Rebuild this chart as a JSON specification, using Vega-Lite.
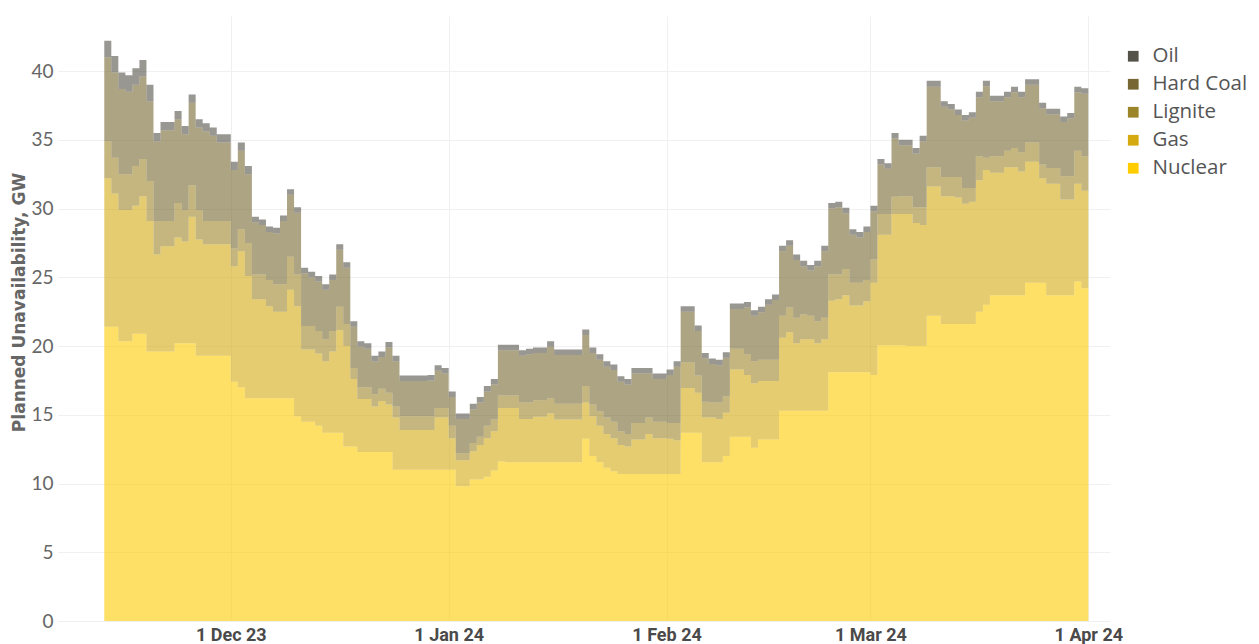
{
  "$schema": "https://vega.github.io/schema/vega-lite/v6.json",
  "width": 1052,
  "height": 605,
  "autosize": {"type": "none"},
  "padding": {"left": 58, "top": 16, "right": 149, "bottom": 23},
  "background": "white",
  "config": {"view": {"stroke": null}, "font": "Lato"},
  "data": {
    "format": {"parse": {"date": "utc:'%Y-%m-%d'"}},
    "values": [
      {"date": "2023-11-13", "Nuclear": 21.4, "Gas": 10.8, "Lignite": 2.7, "Hard Coal": 6.1, "Oil": 1.2},
      {"date": "2023-11-14", "Nuclear": 21.4, "Gas": 9.7, "Lignite": 2.6, "Hard Coal": 6.2, "Oil": 1.2},
      {"date": "2023-11-15", "Nuclear": 20.35, "Gas": 9.55, "Lignite": 2.6, "Hard Coal": 6.2, "Oil": 1.2},
      {"date": "2023-11-16", "Nuclear": 20.35, "Gas": 9.55, "Lignite": 2.6, "Hard Coal": 6.0, "Oil": 1.2},
      {"date": "2023-11-17", "Nuclear": 20.9, "Gas": 9.3, "Lignite": 2.9, "Hard Coal": 5.9, "Oil": 1.2},
      {"date": "2023-11-18", "Nuclear": 20.9, "Gas": 10.0, "Lignite": 2.7, "Hard Coal": 6.0, "Oil": 1.2},
      {"date": "2023-11-19", "Nuclear": 19.6, "Gas": 9.5, "Lignite": 2.9, "Hard Coal": 5.8, "Oil": 1.2},
      {"date": "2023-11-20", "Nuclear": 19.6, "Gas": 7.05, "Lignite": 2.45, "Hard Coal": 5.8, "Oil": 0.6},
      {"date": "2023-11-21", "Nuclear": 19.6, "Gas": 7.65, "Lignite": 1.85, "Hard Coal": 6.6, "Oil": 0.6},
      {"date": "2023-11-22", "Nuclear": 19.6, "Gas": 7.65, "Lignite": 1.85, "Hard Coal": 6.6, "Oil": 0.6},
      {"date": "2023-11-23", "Nuclear": 20.2, "Gas": 7.7, "Lignite": 2.5, "Hard Coal": 6.1, "Oil": 0.6},
      {"date": "2023-11-24", "Nuclear": 20.2, "Gas": 7.4, "Lignite": 2.3, "Hard Coal": 5.5, "Oil": 0.6},
      {"date": "2023-11-25", "Nuclear": 20.2, "Gas": 9.2, "Lignite": 2.3, "Hard Coal": 6.0, "Oil": 0.6},
      {"date": "2023-11-26", "Nuclear": 19.3, "Gas": 8.45, "Lignite": 2.15, "Hard Coal": 6.0, "Oil": 0.6},
      {"date": "2023-11-27", "Nuclear": 19.3, "Gas": 8.1, "Lignite": 1.7, "Hard Coal": 6.5, "Oil": 0.6},
      {"date": "2023-11-28", "Nuclear": 19.3, "Gas": 8.1, "Lignite": 1.7, "Hard Coal": 6.2, "Oil": 0.6},
      {"date": "2023-11-29", "Nuclear": 19.3, "Gas": 8.1, "Lignite": 1.7, "Hard Coal": 5.7, "Oil": 0.6},
      {"date": "2023-11-30", "Nuclear": 19.3, "Gas": 8.1, "Lignite": 1.7, "Hard Coal": 5.7, "Oil": 0.6},
      {"date": "2023-12-01", "Nuclear": 17.4, "Gas": 8.4, "Lignite": 1.3, "Hard Coal": 5.7, "Oil": 0.6},
      {"date": "2023-12-02", "Nuclear": 17.0, "Gas": 9.9, "Lignite": 1.6, "Hard Coal": 5.7, "Oil": 0.6},
      {"date": "2023-12-03", "Nuclear": 16.2, "Gas": 8.9, "Lignite": 2.4, "Hard Coal": 5.0, "Oil": 0.6},
      {"date": "2023-12-04", "Nuclear": 16.2, "Gas": 7.2, "Lignite": 1.8, "Hard Coal": 3.8, "Oil": 0.4},
      {"date": "2023-12-05", "Nuclear": 16.2, "Gas": 7.2, "Lignite": 1.8, "Hard Coal": 3.6, "Oil": 0.4},
      {"date": "2023-12-06", "Nuclear": 16.2, "Gas": 6.7, "Lignite": 1.9, "Hard Coal": 3.5, "Oil": 0.4},
      {"date": "2023-12-07", "Nuclear": 16.2, "Gas": 6.3, "Lignite": 2.0, "Hard Coal": 3.7, "Oil": 0.4},
      {"date": "2023-12-08", "Nuclear": 16.2, "Gas": 6.3, "Lignite": 2.0, "Hard Coal": 4.6, "Oil": 0.4},
      {"date": "2023-12-09", "Nuclear": 16.2, "Gas": 7.9, "Lignite": 2.4, "Hard Coal": 4.5, "Oil": 0.4},
      {"date": "2023-12-10", "Nuclear": 14.9, "Gas": 8.0, "Lignite": 2.3, "Hard Coal": 4.5, "Oil": 0.4},
      {"date": "2023-12-11", "Nuclear": 14.5, "Gas": 5.25, "Lignite": 1.7, "Hard Coal": 3.85, "Oil": 0.4},
      {"date": "2023-12-12", "Nuclear": 14.5, "Gas": 5.25, "Lignite": 1.7, "Hard Coal": 3.55, "Oil": 0.4},
      {"date": "2023-12-13", "Nuclear": 14.2, "Gas": 5.25, "Lignite": 1.65, "Hard Coal": 3.6, "Oil": 0.4},
      {"date": "2023-12-14", "Nuclear": 13.7, "Gas": 5.2, "Lignite": 1.6, "Hard Coal": 3.6, "Oil": 0.4},
      {"date": "2023-12-15", "Nuclear": 13.7, "Gas": 5.9, "Lignite": 1.5, "Hard Coal": 3.7, "Oil": 0.4},
      {"date": "2023-12-16", "Nuclear": 13.7, "Gas": 7.45, "Lignite": 1.7, "Hard Coal": 4.15, "Oil": 0.4},
      {"date": "2023-12-17", "Nuclear": 12.7, "Gas": 7.3, "Lignite": 1.6, "Hard Coal": 4.1, "Oil": 0.4},
      {"date": "2023-12-18", "Nuclear": 12.7, "Gas": 4.9, "Lignite": 0.8, "Hard Coal": 3.0, "Oil": 0.4},
      {"date": "2023-12-19", "Nuclear": 12.3, "Gas": 3.85, "Lignite": 0.85, "Hard Coal": 2.95, "Oil": 0.4},
      {"date": "2023-12-20", "Nuclear": 12.3, "Gas": 3.85, "Lignite": 0.85, "Hard Coal": 2.8, "Oil": 0.4},
      {"date": "2023-12-21", "Nuclear": 12.3, "Gas": 3.3, "Lignite": 0.9, "Hard Coal": 2.4, "Oil": 0.4},
      {"date": "2023-12-22", "Nuclear": 12.3, "Gas": 3.7, "Lignite": 0.9, "Hard Coal": 2.3, "Oil": 0.4},
      {"date": "2023-12-23", "Nuclear": 12.3, "Gas": 3.45, "Lignite": 0.85, "Hard Coal": 3.3, "Oil": 0.4},
      {"date": "2023-12-24", "Nuclear": 11.0, "Gas": 3.8, "Lignite": 0.8, "Hard Coal": 3.3, "Oil": 0.4},
      {"date": "2023-12-25", "Nuclear": 11.0, "Gas": 2.9, "Lignite": 1.0, "Hard Coal": 2.55, "Oil": 0.4},
      {"date": "2023-12-26", "Nuclear": 11.0, "Gas": 2.9, "Lignite": 1.0, "Hard Coal": 2.55, "Oil": 0.4},
      {"date": "2023-12-27", "Nuclear": 11.0, "Gas": 2.9, "Lignite": 1.0, "Hard Coal": 2.55, "Oil": 0.4},
      {"date": "2023-12-28", "Nuclear": 11.0, "Gas": 2.9, "Lignite": 1.0, "Hard Coal": 2.55, "Oil": 0.4},
      {"date": "2023-12-29", "Nuclear": 11.0, "Gas": 2.9, "Lignite": 1.0, "Hard Coal": 2.6, "Oil": 0.4},
      {"date": "2023-12-30", "Nuclear": 11.0, "Gas": 3.8, "Lignite": 0.7, "Hard Coal": 2.7, "Oil": 0.4},
      {"date": "2023-12-31", "Nuclear": 11.0, "Gas": 3.8, "Lignite": 0.7, "Hard Coal": 2.5, "Oil": 0.4},
      {"date": "2024-01-01", "Nuclear": 11.0, "Gas": 2.3, "Lignite": 0.9, "Hard Coal": 2.1, "Oil": 0.4},
      {"date": "2024-01-02", "Nuclear": 9.8, "Gas": 1.9, "Lignite": 0.5, "Hard Coal": 2.5, "Oil": 0.4},
      {"date": "2024-01-03", "Nuclear": 9.8, "Gas": 1.9, "Lignite": 0.5, "Hard Coal": 2.5, "Oil": 0.4},
      {"date": "2024-01-04", "Nuclear": 10.3, "Gas": 2.05, "Lignite": 0.6, "Hard Coal": 2.45, "Oil": 0.4},
      {"date": "2024-01-05", "Nuclear": 10.3, "Gas": 2.5, "Lignite": 0.6, "Hard Coal": 2.5, "Oil": 0.4},
      {"date": "2024-01-06", "Nuclear": 10.5, "Gas": 2.8, "Lignite": 0.9, "Hard Coal": 2.5, "Oil": 0.4},
      {"date": "2024-01-07", "Nuclear": 10.95, "Gas": 2.85, "Lignite": 0.85, "Hard Coal": 2.55, "Oil": 0.4},
      {"date": "2024-01-08", "Nuclear": 11.6, "Gas": 3.9, "Lignite": 0.9, "Hard Coal": 3.3, "Oil": 0.4},
      {"date": "2024-01-09", "Nuclear": 11.55, "Gas": 3.95, "Lignite": 0.9, "Hard Coal": 3.3, "Oil": 0.4},
      {"date": "2024-01-10", "Nuclear": 11.55, "Gas": 3.95, "Lignite": 0.9, "Hard Coal": 3.3, "Oil": 0.4},
      {"date": "2024-01-11", "Nuclear": 11.55, "Gas": 3.15, "Lignite": 1.2, "Hard Coal": 3.4, "Oil": 0.4},
      {"date": "2024-01-12", "Nuclear": 11.55, "Gas": 3.15, "Lignite": 1.2, "Hard Coal": 3.5, "Oil": 0.4},
      {"date": "2024-01-13", "Nuclear": 11.55, "Gas": 3.3, "Lignite": 1.2, "Hard Coal": 3.45, "Oil": 0.4},
      {"date": "2024-01-14", "Nuclear": 11.55, "Gas": 3.3, "Lignite": 1.2, "Hard Coal": 3.45, "Oil": 0.4},
      {"date": "2024-01-15", "Nuclear": 11.55, "Gas": 3.55, "Lignite": 1.1, "Hard Coal": 3.75, "Oil": 0.4},
      {"date": "2024-01-16", "Nuclear": 11.55, "Gas": 3.1, "Lignite": 1.15, "Hard Coal": 3.55, "Oil": 0.4},
      {"date": "2024-01-17", "Nuclear": 11.55, "Gas": 3.1, "Lignite": 1.15, "Hard Coal": 3.55, "Oil": 0.4},
      {"date": "2024-01-18", "Nuclear": 11.55, "Gas": 3.1, "Lignite": 1.15, "Hard Coal": 3.55, "Oil": 0.4},
      {"date": "2024-01-19", "Nuclear": 11.55, "Gas": 3.1, "Lignite": 1.15, "Hard Coal": 3.55, "Oil": 0.4},
      {"date": "2024-01-20", "Nuclear": 13.25, "Gas": 2.65, "Lignite": 1.2, "Hard Coal": 3.7, "Oil": 0.4},
      {"date": "2024-01-21", "Nuclear": 12.0, "Gas": 2.9, "Lignite": 0.85, "Hard Coal": 3.75, "Oil": 0.4},
      {"date": "2024-01-22", "Nuclear": 11.55, "Gas": 2.65, "Lignite": 1.05, "Hard Coal": 3.75, "Oil": 0.4},
      {"date": "2024-01-23", "Nuclear": 11.15, "Gas": 2.45, "Lignite": 1.2, "Hard Coal": 3.7, "Oil": 0.4},
      {"date": "2024-01-24", "Nuclear": 10.9, "Gas": 2.4, "Lignite": 1.2, "Hard Coal": 3.75, "Oil": 0.4},
      {"date": "2024-01-25", "Nuclear": 10.7, "Gas": 2.1, "Lignite": 1.0, "Hard Coal": 3.6, "Oil": 0.4},
      {"date": "2024-01-26", "Nuclear": 10.7, "Gas": 2.0, "Lignite": 0.9, "Hard Coal": 3.6, "Oil": 0.4},
      {"date": "2024-01-27", "Nuclear": 10.7, "Gas": 2.5, "Lignite": 1.2, "Hard Coal": 3.6, "Oil": 0.4},
      {"date": "2024-01-28", "Nuclear": 10.7, "Gas": 2.5, "Lignite": 1.2, "Hard Coal": 3.6, "Oil": 0.4},
      {"date": "2024-01-29", "Nuclear": 10.7, "Gas": 2.9, "Lignite": 1.2, "Hard Coal": 3.2, "Oil": 0.4},
      {"date": "2024-01-30", "Nuclear": 10.7, "Gas": 2.6, "Lignite": 1.2, "Hard Coal": 3.1, "Oil": 0.4},
      {"date": "2024-01-31", "Nuclear": 10.7, "Gas": 2.6, "Lignite": 1.2, "Hard Coal": 3.1, "Oil": 0.4},
      {"date": "2024-02-01", "Nuclear": 10.7, "Gas": 2.55, "Lignite": 1.15, "Hard Coal": 3.5, "Oil": 0.4},
      {"date": "2024-02-02", "Nuclear": 10.7, "Gas": 2.45, "Lignite": 1.25, "Hard Coal": 4.1, "Oil": 0.4},
      {"date": "2024-02-03", "Nuclear": 13.7, "Gas": 3.25, "Lignite": 1.85, "Hard Coal": 3.7, "Oil": 0.4},
      {"date": "2024-02-04", "Nuclear": 13.7, "Gas": 3.25, "Lignite": 1.85, "Hard Coal": 3.7, "Oil": 0.4},
      {"date": "2024-02-05", "Nuclear": 13.7, "Gas": 2.9, "Lignite": 1.25, "Hard Coal": 3.25, "Oil": 0.4},
      {"date": "2024-02-06", "Nuclear": 11.55, "Gas": 3.25, "Lignite": 1.15, "Hard Coal": 3.15, "Oil": 0.4},
      {"date": "2024-02-07", "Nuclear": 11.55, "Gas": 3.25, "Lignite": 1.1, "Hard Coal": 2.8, "Oil": 0.4},
      {"date": "2024-02-08", "Nuclear": 11.55, "Gas": 3.15, "Lignite": 1.2, "Hard Coal": 2.7, "Oil": 0.4},
      {"date": "2024-02-09", "Nuclear": 12.0, "Gas": 3.15, "Lignite": 1.2, "Hard Coal": 2.8, "Oil": 0.4},
      {"date": "2024-02-10", "Nuclear": 13.4, "Gas": 4.9, "Lignite": 1.5, "Hard Coal": 2.9, "Oil": 0.4},
      {"date": "2024-02-11", "Nuclear": 13.4, "Gas": 4.9, "Lignite": 1.5, "Hard Coal": 2.9, "Oil": 0.4},
      {"date": "2024-02-12", "Nuclear": 13.4, "Gas": 4.5, "Lignite": 1.5, "Hard Coal": 3.4, "Oil": 0.4},
      {"date": "2024-02-13", "Nuclear": 12.6, "Gas": 4.7, "Lignite": 1.6, "Hard Coal": 3.3, "Oil": 0.4},
      {"date": "2024-02-14", "Nuclear": 13.2, "Gas": 4.25, "Lignite": 1.55, "Hard Coal": 3.45, "Oil": 0.4},
      {"date": "2024-02-15", "Nuclear": 13.2, "Gas": 4.25, "Lignite": 1.55, "Hard Coal": 4.0, "Oil": 0.4},
      {"date": "2024-02-16", "Nuclear": 13.2, "Gas": 4.25, "Lignite": 1.55, "Hard Coal": 4.35, "Oil": 0.4},
      {"date": "2024-02-17", "Nuclear": 15.3, "Gas": 5.3, "Lignite": 1.6, "Hard Coal": 4.7, "Oil": 0.4},
      {"date": "2024-02-18", "Nuclear": 15.3, "Gas": 5.7, "Lignite": 1.8, "Hard Coal": 4.5, "Oil": 0.4},
      {"date": "2024-02-19", "Nuclear": 15.3, "Gas": 4.9, "Lignite": 1.85, "Hard Coal": 4.2, "Oil": 0.4},
      {"date": "2024-02-20", "Nuclear": 15.3, "Gas": 5.2, "Lignite": 1.8, "Hard Coal": 3.5, "Oil": 0.4},
      {"date": "2024-02-21", "Nuclear": 15.3, "Gas": 5.2, "Lignite": 1.7, "Hard Coal": 3.3, "Oil": 0.4},
      {"date": "2024-02-22", "Nuclear": 15.3, "Gas": 4.9, "Lignite": 1.6, "Hard Coal": 4.0, "Oil": 0.4},
      {"date": "2024-02-23", "Nuclear": 15.3, "Gas": 5.2, "Lignite": 1.55, "Hard Coal": 4.85, "Oil": 0.4},
      {"date": "2024-02-24", "Nuclear": 18.1, "Gas": 5.2, "Lignite": 1.9, "Hard Coal": 4.8, "Oil": 0.4},
      {"date": "2024-02-25", "Nuclear": 18.1, "Gas": 5.3, "Lignite": 1.8, "Hard Coal": 4.9, "Oil": 0.4},
      {"date": "2024-02-26", "Nuclear": 18.1, "Gas": 5.6, "Lignite": 1.9, "Hard Coal": 4.05, "Oil": 0.4},
      {"date": "2024-02-27", "Nuclear": 18.1, "Gas": 4.85, "Lignite": 1.65, "Hard Coal": 3.5, "Oil": 0.4},
      {"date": "2024-02-28", "Nuclear": 18.1, "Gas": 4.85, "Lignite": 1.65, "Hard Coal": 3.3, "Oil": 0.4},
      {"date": "2024-02-29", "Nuclear": 18.1, "Gas": 5.15, "Lignite": 1.55, "Hard Coal": 3.5, "Oil": 0.4},
      {"date": "2024-03-01", "Nuclear": 17.9, "Gas": 6.7, "Lignite": 1.7, "Hard Coal": 3.5, "Oil": 0.4},
      {"date": "2024-03-02", "Nuclear": 20.05, "Gas": 8.05, "Lignite": 1.5, "Hard Coal": 3.6, "Oil": 0.4},
      {"date": "2024-03-03", "Nuclear": 20.05, "Gas": 8.05, "Lignite": 1.5, "Hard Coal": 3.3, "Oil": 0.4},
      {"date": "2024-03-04", "Nuclear": 20.05, "Gas": 9.55, "Lignite": 1.25, "Hard Coal": 4.25, "Oil": 0.4},
      {"date": "2024-03-05", "Nuclear": 20.05, "Gas": 9.55, "Lignite": 1.3, "Hard Coal": 3.7, "Oil": 0.4},
      {"date": "2024-03-06", "Nuclear": 20.0, "Gas": 9.6, "Lignite": 1.3, "Hard Coal": 3.7, "Oil": 0.4},
      {"date": "2024-03-07", "Nuclear": 20.0, "Gas": 8.95, "Lignite": 1.15, "Hard Coal": 3.9, "Oil": 0.4},
      {"date": "2024-03-08", "Nuclear": 20.0, "Gas": 8.8, "Lignite": 1.3, "Hard Coal": 4.8, "Oil": 0.4},
      {"date": "2024-03-09", "Nuclear": 22.2, "Gas": 9.4, "Lignite": 1.4, "Hard Coal": 5.85, "Oil": 0.45},
      {"date": "2024-03-10", "Nuclear": 22.2, "Gas": 9.4, "Lignite": 1.4, "Hard Coal": 5.85, "Oil": 0.45},
      {"date": "2024-03-11", "Nuclear": 21.6, "Gas": 9.3, "Lignite": 1.4, "Hard Coal": 5.1, "Oil": 0.4},
      {"date": "2024-03-12", "Nuclear": 21.6, "Gas": 9.3, "Lignite": 1.4, "Hard Coal": 4.9, "Oil": 0.4},
      {"date": "2024-03-13", "Nuclear": 21.6, "Gas": 9.2, "Lignite": 1.5, "Hard Coal": 4.5, "Oil": 0.4},
      {"date": "2024-03-14", "Nuclear": 21.6, "Gas": 8.75, "Lignite": 1.15, "Hard Coal": 4.9, "Oil": 0.4},
      {"date": "2024-03-15", "Nuclear": 21.6, "Gas": 8.9, "Lignite": 1.0, "Hard Coal": 5.1, "Oil": 0.4},
      {"date": "2024-03-16", "Nuclear": 22.5, "Gas": 9.55, "Lignite": 1.75, "Hard Coal": 4.3, "Oil": 0.4},
      {"date": "2024-03-17", "Nuclear": 23.0, "Gas": 9.8, "Lignite": 0.9, "Hard Coal": 5.2, "Oil": 0.4},
      {"date": "2024-03-18", "Nuclear": 23.7, "Gas": 8.9, "Lignite": 1.2, "Hard Coal": 4.0, "Oil": 0.4},
      {"date": "2024-03-19", "Nuclear": 23.7, "Gas": 8.9, "Lignite": 1.2, "Hard Coal": 4.0, "Oil": 0.4},
      {"date": "2024-03-20", "Nuclear": 23.7, "Gas": 9.3, "Lignite": 1.2, "Hard Coal": 3.9, "Oil": 0.4},
      {"date": "2024-03-21", "Nuclear": 23.7, "Gas": 9.3, "Lignite": 1.4, "Hard Coal": 4.05, "Oil": 0.4},
      {"date": "2024-03-22", "Nuclear": 23.7, "Gas": 9.0, "Lignite": 1.4, "Hard Coal": 4.0, "Oil": 0.4},
      {"date": "2024-03-23", "Nuclear": 24.6, "Gas": 8.8, "Lignite": 1.4, "Hard Coal": 4.2, "Oil": 0.4},
      {"date": "2024-03-24", "Nuclear": 24.6, "Gas": 8.8, "Lignite": 1.4, "Hard Coal": 4.2, "Oil": 0.4},
      {"date": "2024-03-25", "Nuclear": 24.6, "Gas": 7.6, "Lignite": 1.0, "Hard Coal": 4.1, "Oil": 0.4},
      {"date": "2024-03-26", "Nuclear": 23.7, "Gas": 8.1, "Lignite": 1.15, "Hard Coal": 3.9, "Oil": 0.4},
      {"date": "2024-03-27", "Nuclear": 23.7, "Gas": 8.1, "Lignite": 1.15, "Hard Coal": 3.9, "Oil": 0.4},
      {"date": "2024-03-28", "Nuclear": 23.7, "Gas": 6.95, "Lignite": 1.7, "Hard Coal": 3.95, "Oil": 0.4},
      {"date": "2024-03-29", "Nuclear": 23.7, "Gas": 6.95, "Lignite": 1.7, "Hard Coal": 4.2, "Oil": 0.4},
      {"date": "2024-03-30", "Nuclear": 24.7, "Gas": 7.1, "Lignite": 2.4, "Hard Coal": 4.25, "Oil": 0.4},
      {"date": "2024-03-31", "Nuclear": 24.2, "Gas": 7.1, "Lignite": 2.5, "Hard Coal": 4.55, "Oil": 0.4},
      {"date": "2024-04-01", "Nuclear": 24.2, "Gas": 7.1, "Lignite": 2.5, "Hard Coal": 4.55, "Oil": 0.4}
    ]
  },
  "transform": [
    {"fold": ["Nuclear", "Gas", "Lignite", "Hard Coal", "Oil"], "as": ["source", "gw"]},
    {
      "lookup": "source",
      "from": {
        "data": {"values": [
          {"source": "Nuclear", "rank": 1},
          {"source": "Gas", "rank": 2},
          {"source": "Lignite", "rank": 3},
          {"source": "Hard Coal", "rank": 4},
          {"source": "Oil", "rank": 5}
        ]},
        "key": "source",
        "fields": ["rank"]
      }
    }
  ],
  "mark": {"type": "area", "interpolate": "step-after", "opacity": 0.6},
  "encoding": {
    "x": {
      "field": "date",
      "type": "temporal",
      "scale": {
        "type": "utc",
        "domain": [
          {"year": 2023, "month": 11, "date": 6, "hours": 10, "utc": true},
          {"year": 2024, "month": 4, "date": 4, "hours": 2, "utc": true}
        ]
      },
      "axis": {
        "title": null,
        "tickCount": "month",
        "format": "%-d %b %y",
        "grid": true,
        "gridColor": "#f0f0f0",
        "domain": false,
        "ticks": false,
        "labelFont": "Roboto",
        "labelFontWeight": "bold",
        "labelFontSize": 18,
        "labelColor": "#4a4a4a",
        "labelPadding": 5
      }
    },
    "y": {
      "field": "gw",
      "type": "quantitative",
      "stack": "zero",
      "scale": {"domain": [0, 44], "nice": false, "zero": true},
      "axis": {
        "title": "Planned Unavailability, GW",
        "titleFont": "DejaVu Sans",
        "titleFontWeight": "bold",
        "titleFontSize": 17,
        "titleColor": "#666666",
        "titleX": -30,
        "titleY": 286,
        "titleAngle": -90,
        "titleAlign": "center",
        "titleBaseline": "bottom",
        "values": [0, 5, 10, 15, 20, 25, 30, 35, 40],
        "grid": true,
        "gridColor": "#f0f0f0",
        "domain": false,
        "ticks": false,
        "labelFont": "Lato",
        "labelFontSize": 19,
        "labelColor": "#666666",
        "labelPadding": 5
      }
    },
    "color": {
      "field": "source",
      "type": "nominal",
      "scale": {
        "domain": ["Oil", "Hard Coal", "Lignite", "Gas", "Nuclear"],
        "range": ["#55524a", "#776732", "#9c8528", "#d4aa10", "#ffcc00"]
      },
      "legend": {
        "title": null,
        "orient": "none",
        "legendX": 1065,
        "legendY": 30,
        "padding": 0,
        "symbolType": "square",
        "symbolSize": 115,
        "symbolOpacity": 1,
        "symbolStrokeWidth": 0,
        "labelFont": "Open Sans",
        "labelFontSize": 20.5,
        "labelColor": "#555555",
        "labelOffset": 9,
        "rowPadding": 7
      }
    },
    "order": {"field": "rank", "type": "quantitative", "sort": "ascending"}
  }
}
